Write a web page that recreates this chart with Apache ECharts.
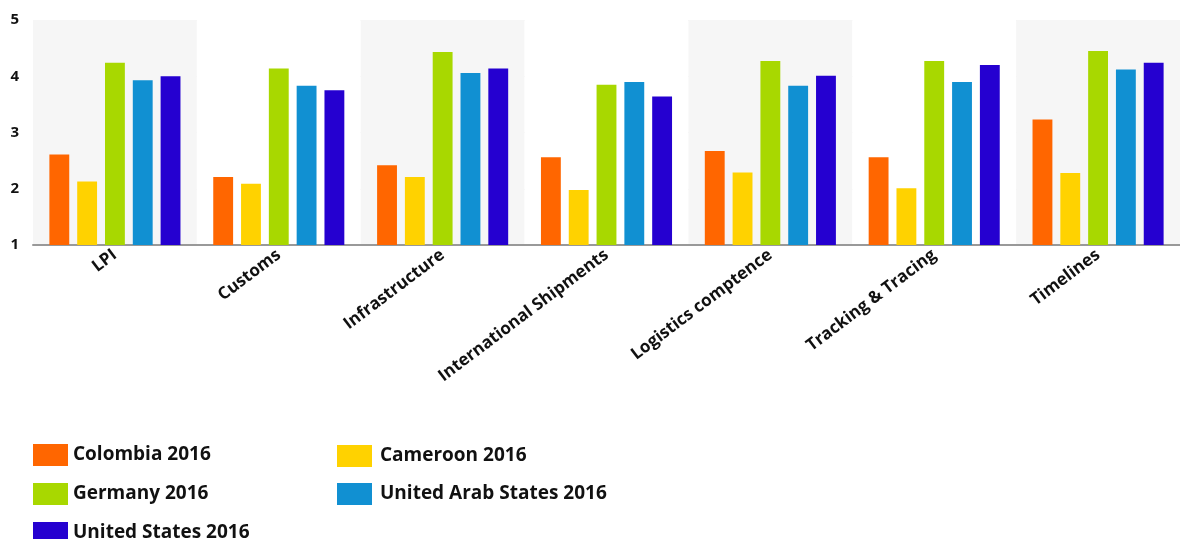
<!DOCTYPE html>
<html>
<head>
<meta charset="utf-8">
<title>LPI 2016</title>
<script src="https://cdn.jsdelivr.net/npm/echarts@6/dist/echarts.min.js"></script>
<style>
  html, body { margin: 0; padding: 0; background: #fff; }
  #chart { width: 1180px; height: 539px; }
</style>
</head>
<body>
<div id="chart"></div>
<script>
// categories and values
var categories = ['LPI', 'Customs', 'Infrastructure', 'International Shipments', 'Logistics comptence', 'Tracking & Tracing', 'Timelines'];
var colombia = [2.61, 2.21, 2.42, 2.56, 2.67, 2.56, 3.23];
var cameroon = [2.13, 2.09, 2.21, 1.98, 2.29, 2.01, 2.28];
var germany  = [4.24, 4.14, 4.43, 3.85, 4.27, 4.27, 4.45];
var uae      = [3.93, 3.83, 4.06, 3.90, 3.83, 3.90, 4.12];
var usa      = [4.00, 3.75, 4.14, 3.64, 4.01, 4.20, 4.24];
var yTicks = [1, 2, 3, 4, 5];

var chart = echarts.init(document.getElementById('chart'));

function bar(name, data, color) {
  return {
    name: name,
    type: 'bar',
    data: data,
    barGap: '40%',
    barCategoryGap: '20%',
    itemStyle: { color: color }
  };
}

var legendText = { fontFamily: 'Open Sans', fontWeight: 'bold', fontSize: 19, color: '#111' };

var option = {
  animation: false,
  textStyle: { fontFamily: 'Open Sans' },
  grid: { left: 33, right: 0, top: 20, bottom: 294 },
  legend: [
    {
      data: ['Colombia 2016', 'Germany 2016', 'United States 2016'],
      orient: 'vertical', left: 33, top: 444, height: 120, padding: 0,
      icon: 'rect', itemWidth: 35, itemHeight: 22, itemGap: 17,
      textStyle: legendText
    },
    {
      data: ['Cameroon 2016', 'United Arab States 2016'],
      orient: 'vertical', left: 337, top: 445, height: 120, padding: 0,
      icon: 'rect', itemWidth: 35, itemHeight: 22, itemGap: 16,
      textStyle: Object.assign({}, legendText, { padding: [0, 0, 0, 3] })
    }
  ],
  xAxis: {
    type: 'category',
    data: categories,
    axisLine: { lineStyle: { color: '#999', width: 2 } },
    axisTick: { alignWithLabel: true, length: 4, lineStyle: { color: '#999' } },
    splitArea: { show: true, areaStyle: { color: ['#f6f6f6', '#ffffff'] } },
    axisLabel: {
      interval: 0, rotate: 37, margin: 8,
      fontFamily: 'Open Sans', fontWeight: 'bold', fontSize: 17, color: '#111'
    }
  },
  yAxis: {
    type: 'value',
    min: yTicks[0],
    max: yTicks[yTicks.length - 1],
    interval: 1,
    axisLine: { show: false },
    axisTick: { show: false },
    splitLine: { lineStyle: { color: '#eeeeee' } },
    axisLabel: {
      margin: 14, fontFamily: 'Open Sans', fontWeight: 'bold', fontSize: 15, color: '#111'
    }
  },
  series: [
    bar('Colombia 2016', colombia, '#ff6600'),
    bar('Cameroon 2016', cameroon, '#ffd200'),
    bar('Germany 2016', germany, '#a8d800'),
    bar('United Arab States 2016', uae, '#1190d2'),
    bar('United States 2016', usa, '#2500d0')
  ]
};

chart.setOption(option);
</script>
</body>
</html>
